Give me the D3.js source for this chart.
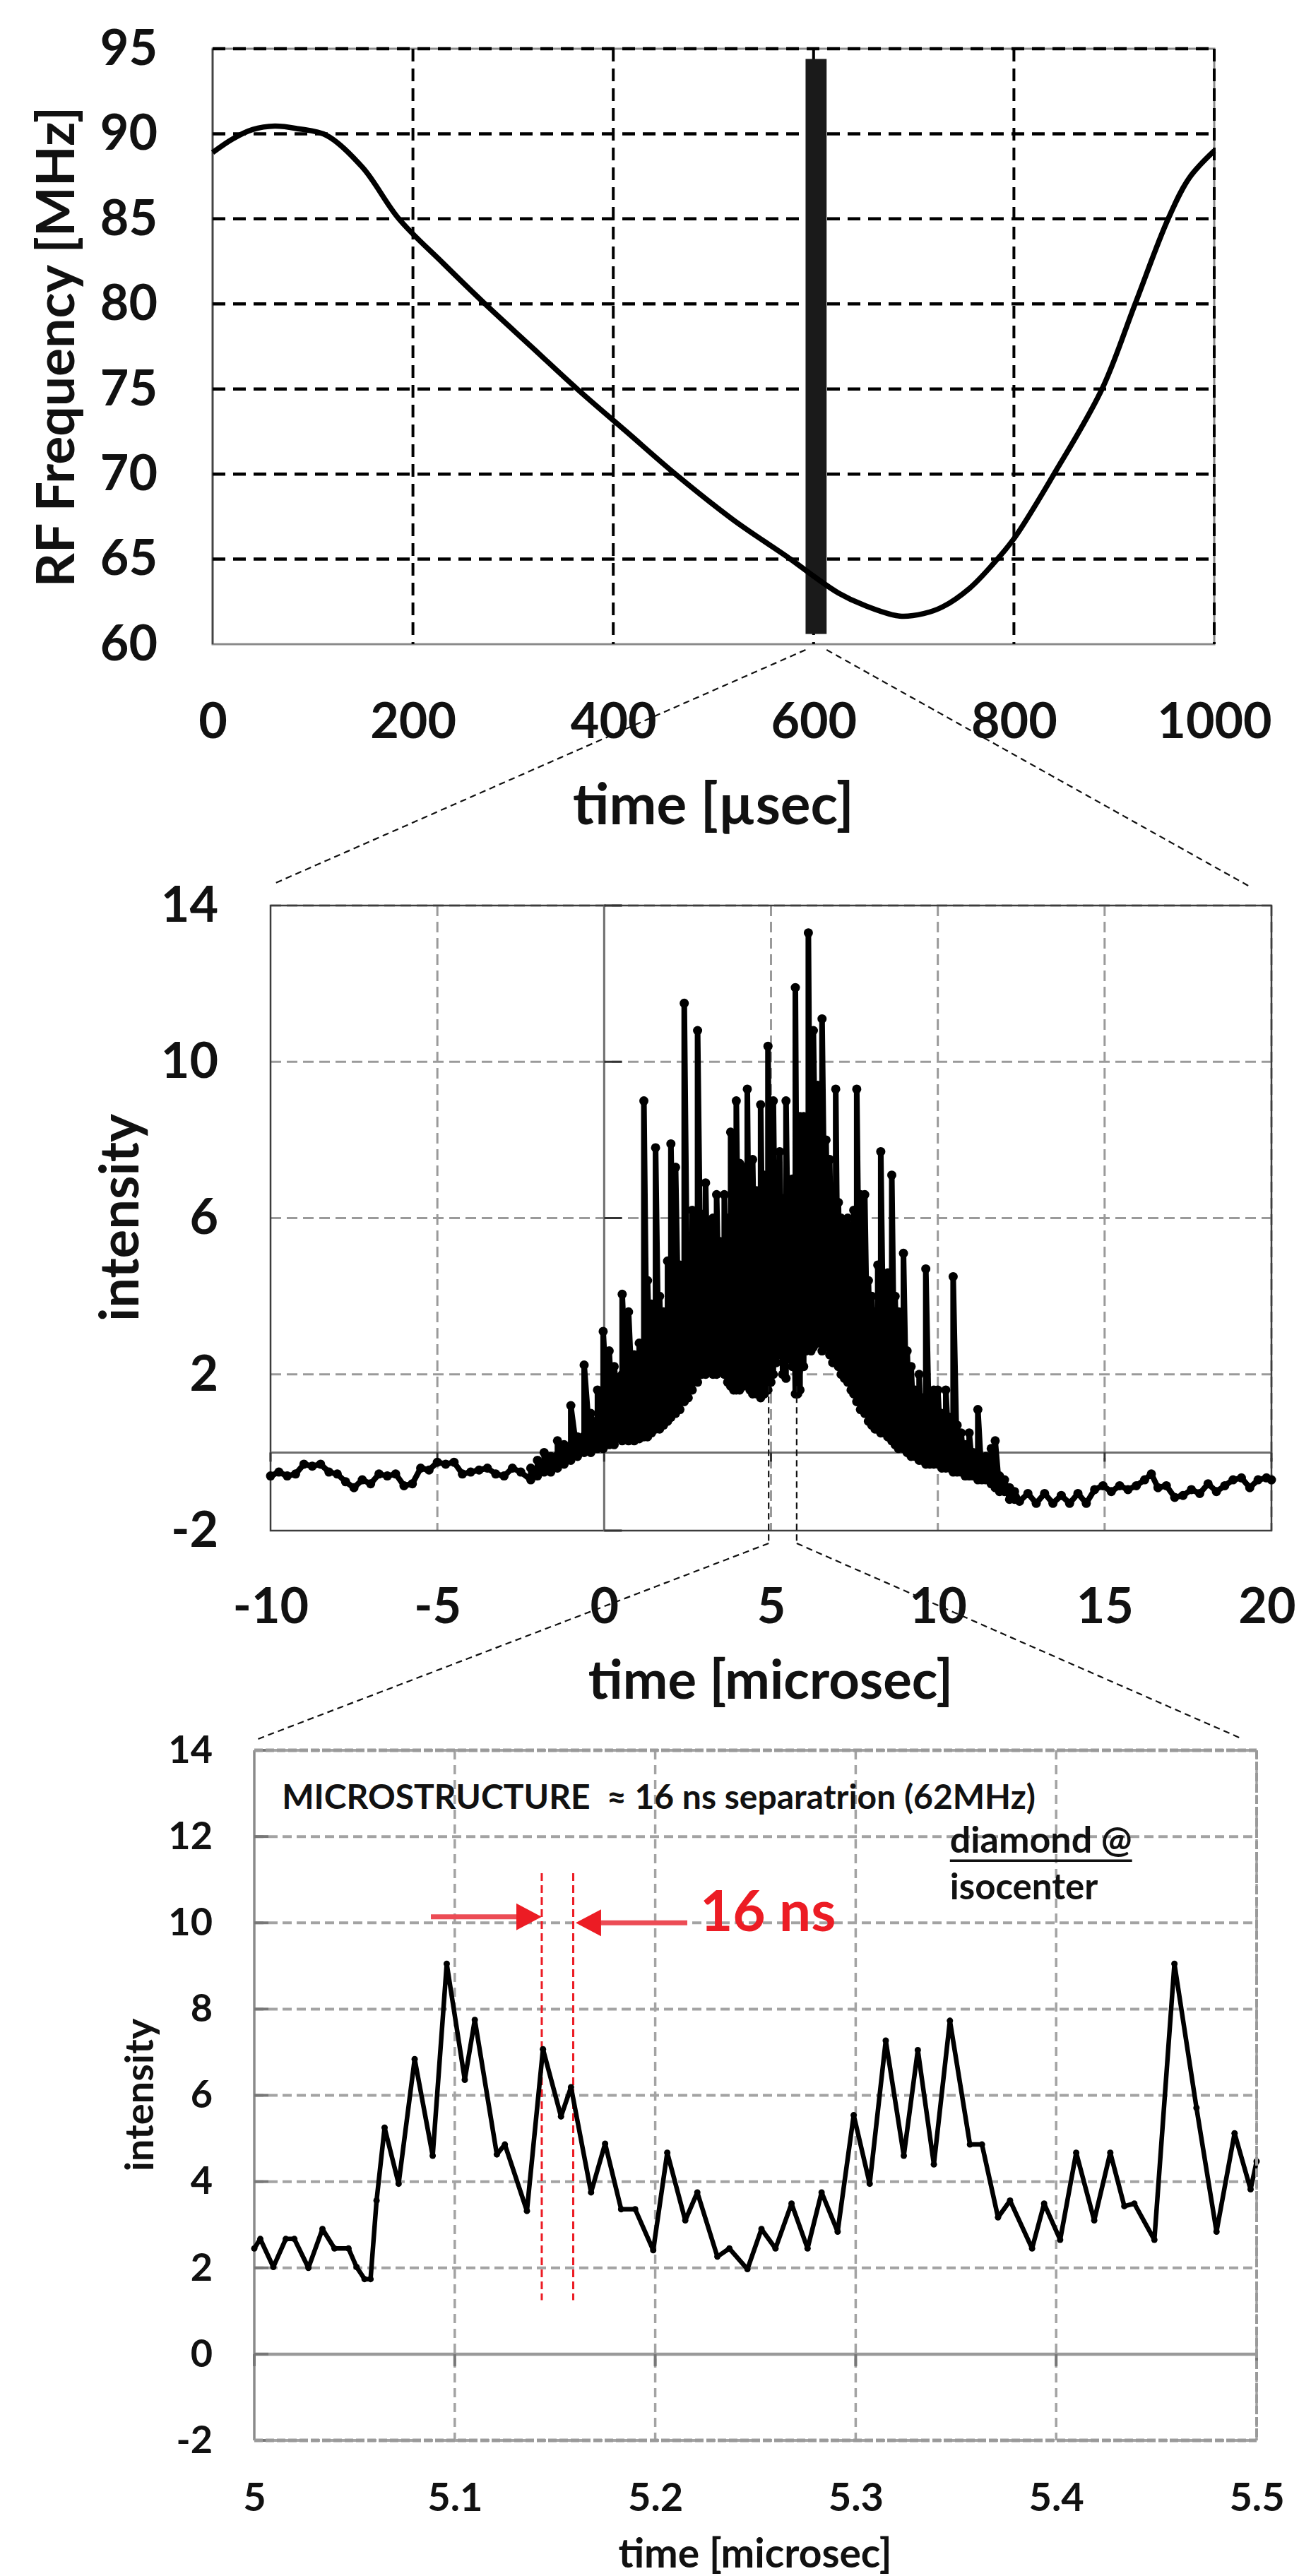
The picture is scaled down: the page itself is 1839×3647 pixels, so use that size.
<!DOCTYPE html>
<html>
<head>
<meta charset="utf-8">
<script src="https://cdn.jsdelivr.net/npm/d3@7"></script>
<style>
  body { margin: 0; background: #fff; }
  svg text { font-family: Lato, "Open Sans", sans-serif; font-weight: 700; fill: #111; }
</style>
</head>
<body>
<svg id="fig" width="1839" height="3647"></svg>
<script>
// ---------- data: top panel (RF sweep) ----------
const rfTime = [0, 20, 40, 62, 85, 114, 150, 186, 230, 272, 318, 364, 413, 462, 520, 577, 600, 625, 650, 686, 710, 729, 756, 779, 800, 840, 888, 921, 954, 975, 1000];
const rfFreq = [88.9, 89.7, 90.25, 90.45, 90.3, 89.9, 88.0, 85.0, 82.4, 80.0, 77.5, 75.0, 72.5, 70.0, 67.3, 65.0, 64.0, 63.0, 62.3, 61.65, 61.8, 62.2, 63.3, 64.7, 66.2, 70.0, 75.0, 80.0, 85.0, 87.4, 89.0];
const rfWindowTime = [592, 613];     // highlighted extraction window
const rfWindowFreq = [60.6, 94.4];
const topXTicks = [0, 200, 400, 600, 800, 1000];
const topYTicks = [60, 65, 70, 75, 80, 85, 90, 95];

// ---------- data: middle panel (macro pulse) ----------
const quietBeforeTime = [-10, -9.75, -9.5, -9.25, -9, -8.75, -8.5, -8.25, -8, -7.75, -7.5, -7.25, -7, -6.75, -6.5, -6.25, -6, -5.75, -5.5, -5.25, -5, -4.75, -4.5, -4.25, -4, -3.75, -3.5, -3.25, -3, -2.75, -2.5];
const quietBeforeValue = [-0.6, -0.5, -0.6, -0.55, -0.3, -0.35, -0.3, -0.5, -0.55, -0.75, -0.9, -0.7, -0.8, -0.55, -0.6, -0.55, -0.85, -0.8, -0.4, -0.45, -0.25, -0.3, -0.25, -0.55, -0.5, -0.45, -0.4, -0.55, -0.6, -0.4, -0.5];
const burstTime = [-2.2, -2.0, -1.8, -1.6, -1.4, -1.2, -1.0, -0.8, -0.6, -0.4, -0.2, -0.03, 0.15, 0.3, 0.54, 0.73, 0.9, 1.05, 1.19, 1.3, 1.42, 1.54, 1.66, 1.78, 1.9, 2.0, 2.14, 2.27, 2.4, 2.52, 2.64, 2.8, 2.92, 3.04, 3.15, 3.26, 3.37, 3.48, 3.6, 3.7, 3.79, 3.88, 3.96, 4.06, 4.17, 4.29, 4.37, 4.45, 4.57, 4.69, 4.8, 4.91, 5.0, 5.07, 5.16, 5.26, 5.35, 5.45, 5.55, 5.64, 5.73, 5.8, 5.87, 5.98, 6.05, 6.12, 6.2, 6.27, 6.4, 6.53, 6.65, 6.76, 6.85, 6.94, 7.02, 7.1, 7.2, 7.3, 7.4, 7.48, 7.57, 7.68, 7.81, 7.92, 8.02, 8.12, 8.2, 8.29, 8.4, 8.5, 8.62, 8.72, 8.82, 8.97, 9.08, 9.2, 9.32, 9.44, 9.54, 9.64, 9.76, 9.88, 10.0, 10.12, 10.24, 10.36, 10.46, 10.58, 10.7, 10.82, 10.94, 11.06, 11.2, 11.32, 11.44, 11.6, 11.72, 11.85, 12.0, 12.15, 12.3];
const burstHigh = [-0.4, -0.2, 0.0, -0.1, 0.3, 0.2, 1.2, 0.4, 2.24, 1.0, 1.6, 3.1, 2.6, 2.2, 4.05, 3.6, 2.5, 2.8, 9.0, 4.4, 3.8, 7.8, 4.0, 3.6, 4.9, 7.9, 7.3, 4.8, 11.5, 4.8, 6.2, 10.8, 6.1, 6.9, 5.9, 6.0, 6.6, 5.4, 6.6, 6.0, 8.2, 6.5, 9.0, 7.4, 7.3, 9.3, 7.2, 7.5, 6.7, 8.9, 7.1, 10.4, 8.0, 9.0, 7.2, 7.7, 6.5, 9.0, 6.8, 7.0, 11.9, 7.8, 8.6, 8.6, 7.6, 13.3, 9.0, 10.8, 9.4, 11.1, 8.0, 7.5, 6.7, 9.3, 6.4, 6.0, 5.9, 6.0, 5.8, 6.2, 9.3, 6.6, 6.6, 4.4, 4.0, 3.6, 4.8, 7.7, 4.2, 4.6, 7.1, 4.0, 3.6, 5.1, 2.6, 2.2, 1.6, 2.0, 1.4, 4.7, 1.4, 1.6, 1.6, 1.0, 1.6, 0.9, 4.5, 0.7, 0.5, 0.2, 0.5, 0.0, 1.1, -0.3, -0.1, 0.1, 0.3, -0.6, -0.7, -0.9, -1.0];
const burstBody = [-0.4, -0.3, -0.2, -0.1, 0.1, 0.2, 0.3, 0.4, 0.6, 0.8, 1.0, 1.3, 1.6, 1.9, 2.2, 2.4, 2.5, 2.6, 3.2, 3.4, 3.3, 3.5, 3.4, 3.4, 3.6, 4.0, 4.5, 4.3, 4.8, 4.6, 5.2, 5.6, 5.6, 5.8, 5.6, 5.6, 5.8, 5.2, 5.6, 5.6, 6.2, 6.0, 6.4, 6.4, 6.3, 6.6, 6.3, 6.4, 6.2, 6.6, 6.4, 7.0, 6.8, 7.0, 6.5, 6.6, 6.0, 6.8, 6.3, 6.5, 7.2, 6.8, 7.2, 7.4, 7.0, 7.6, 7.6, 7.8, 7.6, 7.6, 7.0, 6.6, 6.0, 6.2, 5.8, 5.6, 5.5, 5.5, 5.3, 5.4, 5.8, 5.4, 5.0, 4.2, 3.8, 3.5, 3.8, 4.0, 3.6, 3.6, 3.5, 3.2, 3.0, 2.8, 2.2, 1.9, 1.5, 1.6, 1.3, 1.6, 1.3, 1.3, 1.3, 0.9, 1.0, 0.8, 0.9, 0.6, 0.4, 0.1, 0.2, -0.1, 0.0, -0.4, -0.3, -0.3, -0.6, -0.7, -0.8, -1.0, -1.1];
const burstLow = [-0.7, -0.6, -0.5, -0.5, -0.4, -0.3, -0.2, -0.1, 0.0, 0.0, 0.1, 0.1, 0.2, 0.2, 0.3, 0.3, 0.3, 0.35, 0.4, 0.4, 0.5, 0.6, 0.6, 0.7, 0.8, 0.9, 1.0, 1.1, 1.3, 1.4, 1.6, 1.8, 2.0, 2.0, 2.1, 2.0, 2.0, 2.1, 2.0, 1.8, 1.7, 1.6, 1.6, 1.6, 1.7, 1.8, 1.6, 1.5, 1.5, 1.4, 1.5, 1.6, 1.8, 2.0, 2.3, 2.5, 2.0, 1.9, 2.4, 2.2, 1.5, 1.5, 1.6, 2.2, 2.6, 2.8, 2.6, 2.7, 2.8, 2.6, 2.7, 2.5, 2.3, 2.5, 2.2, 2.0, 1.9, 1.8, 1.6, 1.5, 1.3, 1.1, 1.0, 0.8, 0.7, 0.6, 0.6, 0.5, 0.5, 0.4, 0.3, 0.2, 0.1, 0.1, 0.0, -0.1, -0.1, -0.2, -0.2, -0.3, -0.3, -0.3, -0.3, -0.4, -0.4, -0.4, -0.5, -0.5, -0.5, -0.6, -0.6, -0.6, -0.7, -0.7, -0.7, -0.8, -0.9, -1.0, -1.0, -1.2, -1.2];
const quietAfterTime = [12.45, 12.7, 12.95, 13.2, 13.45, 13.7, 13.95, 14.2, 14.45, 14.7, 14.95, 15.2, 15.45, 15.7, 15.95, 16.2, 16.4, 16.6, 16.85, 17.1, 17.35, 17.6, 17.85, 18.1, 18.35, 18.6, 18.85, 19.1, 19.35, 19.6, 19.85, 20.0];
const quietAfterValue = [-1.25, -1.05, -1.3, -1.05, -1.3, -1.1, -1.3, -1.05, -1.3, -0.95, -0.85, -1.0, -0.85, -0.95, -0.85, -0.7, -0.55, -0.9, -0.85, -1.15, -1.1, -0.95, -1.05, -0.8, -1.0, -0.85, -0.7, -0.65, -0.9, -0.7, -0.65, -0.7];
const zoomWindow = [4.93, 5.77];
const midXTicks = [-10, -5, 0, 5, 10, 15, 20];
const midYTicks = [-2, 2, 6, 10, 14];

// ---------- data: bottom panel (microstructure) ----------
const microTime = [5.0, 5.003, 5.0095, 5.0157, 5.02, 5.027, 5.034, 5.04, 5.047, 5.051, 5.055, 5.058, 5.061, 5.065, 5.072, 5.08, 5.089, 5.096, 5.105, 5.11, 5.121, 5.125, 5.136, 5.144, 5.153, 5.158, 5.168, 5.175, 5.183, 5.19, 5.199, 5.206, 5.215, 5.221, 5.231, 5.237, 5.246, 5.253, 5.26, 5.268, 5.276, 5.283, 5.291, 5.299, 5.307, 5.315, 5.324, 5.331, 5.339, 5.347, 5.357, 5.363, 5.371, 5.377, 5.388, 5.394, 5.402, 5.41, 5.419, 5.427, 5.434, 5.439, 5.449, 5.459, 5.47, 5.48, 5.489, 5.497, 5.5];
const microValue = [2.45, 2.67, 2.02, 2.67, 2.67, 2.0, 2.9, 2.45, 2.45, 2.02, 1.74, 1.74, 3.56, 5.25, 3.95, 6.84, 4.6, 9.05, 6.36, 7.75, 4.63, 4.86, 3.32, 7.07, 5.51, 6.19, 3.75, 4.88, 3.36, 3.36, 2.41, 4.67, 3.1, 3.75, 2.26, 2.45, 1.97, 2.9, 2.45, 3.49, 2.45, 3.75, 2.84, 5.54, 3.95, 7.27, 4.6, 7.05, 4.4, 7.73, 4.86, 4.86, 3.17, 3.56, 2.45, 3.49, 2.65, 4.67, 3.1, 4.67, 3.43, 3.49, 2.65, 9.05, 5.71, 2.84, 5.12, 3.82, 4.47];
const bunchMarks = [5.1434, 5.1591];        // red dashed markers, 16 ns apart
const bunchMarkSpan = [1.25, 11.15];
const arrowRight = [[5.0881, 10.14], [5.1434, 10.14]];
const arrowLeft = [[5.216, 10.0], [5.1603, 10.0]];
const botXTicks = [5, 5.1, 5.2, 5.3, 5.4, 5.5];
const botYTicks = [-2, 0, 2, 4, 6, 8, 10, 12, 14];

const svg = d3.select("#fig");
svg.append("rect").attr("width", 1839).attr("height", 3647).attr("fill", "#fff");

function hLine(g, x1, x2, y, stroke, width, dash) {
  return g.append("line").attr("x1", x1).attr("x2", x2).attr("y1", y).attr("y2", y)
    .attr("stroke", stroke).attr("stroke-width", width).attr("stroke-dasharray", dash || null);
}
function vLine(g, x, y1, y2, stroke, width, dash) {
  return g.append("line").attr("x1", x).attr("x2", x).attr("y1", y1).attr("y2", y2)
    .attr("stroke", stroke).attr("stroke-width", width).attr("stroke-dasharray", dash || null);
}
function styleAxis(g, size) {
  g.select(".domain").remove();
  g.selectAll("line").remove();
  g.selectAll("text").attr("font-size", size).attr("fill", "#111")
    .style("font-family", "Lato, sans-serif").style("font-weight", 700);
}

/* ================= top panel ================= */
const xTop = d3.scaleLinear().domain([0, 1000]).range([301, 1719]);
const yTop = d3.scaleLinear().domain([60, 95]).range([912, 69]);
const gTop = svg.append("g");

gTop.append("rect").attr("x", 301).attr("y", 69).attr("width", 1418).attr("height", 843)
  .attr("fill", "none").attr("stroke", "#8a8a8a").attr("stroke-width", 3);
vLine(gTop, 301, 69, 912, "#444", 2.5);

topYTicks.filter(d => d > 60).forEach(d => hLine(gTop, 301, 1719, yTop(d), "#000", 4.5, "18,11"));
topXTicks.filter(d => d > 0).forEach(d => vLine(gTop, xTop(d), 69, 912, "#000", 4, "18,10"));

gTop.append("rect")
  .attr("x", xTop(rfWindowTime[0])).attr("width", xTop(rfWindowTime[1]) - xTop(rfWindowTime[0]))
  .attr("y", yTop(rfWindowFreq[1])).attr("height", yTop(rfWindowFreq[0]) - yTop(rfWindowFreq[1]))
  .attr("fill", "#1a1a1a");

const rfLine = d3.line().x((d, i) => xTop(rfTime[i])).y(d => yTop(d)).curve(d3.curveCatmullRom.alpha(0.5));
gTop.append("path").attr("d", rfLine(rfFreq)).attr("fill", "none")
  .attr("stroke", "#000").attr("stroke-width", 7.5).attr("stroke-linejoin", "round");

gTop.append("g").attr("transform", "translate(301,0)")
  .call(d3.axisLeft(yTop).tickValues(topYTicks).tickSize(0).tickPadding(78).tickFormat(d => d))
  .call(g => styleAxis(g, 70));
gTop.append("g").attr("transform", "translate(0,912)")
  .call(d3.axisBottom(xTop).tickValues(topXTicks).tickSize(0).tickPadding(83).tickFormat(d => d))
  .call(g => styleAxis(g, 70));

gTop.append("text").attr("transform", "translate(105,491) rotate(-90)")
  .attr("text-anchor", "middle").attr("font-size", 75).text("RF Frequency [MHz]");
gTop.append("text").attr("x", 1010).attr("y", 1167)
  .attr("text-anchor", "middle").attr("font-size", 80).text("time [\u00b5sec]");

/* ================= middle panel ================= */
const xMid = d3.scaleLinear().domain([-10, 20]).range([383, 1800]);
const yMid = d3.scaleLinear().domain([-2, 14]).range([2167, 1282]);
const gMid = svg.append("g");

midYTicks.filter(d => d > -2).forEach(d => hLine(gMid, 383, 1800, yMid(d), "#9a9a9a", 3, "15,8"));
midXTicks.filter(d => d > -10 && d !== 0).forEach(d => vLine(gMid, xMid(d), 1282, 2167, "#9a9a9a", 3, "15,8"));
gMid.append("rect").attr("x", 383).attr("y", 1282).attr("width", 1417).attr("height", 885)
  .attr("fill", "none").attr("stroke", "#3c3c3c").attr("stroke-width", 2.5);
hLine(gMid, 383, 1800, yMid(0), "#6e6e6e", 3);
vLine(gMid, xMid(0), 1282, 2167, "#6e6e6e", 3);
midYTicks.forEach(d => hLine(gMid, xMid(0), xMid(0) + 25, yMid(d), "#333", 3));
midXTicks.forEach(d => vLine(gMid, xMid(d), yMid(0), yMid(0) + 13, "#333", 3));

// dense core of the pulse
const bodyArea = d3.area()
  .x((d, i) => xMid(burstTime[i]))
  .y0((d, i) => yMid(burstLow[i]))
  .y1(d => yMid(d));
gMid.append("path").attr("d", bodyArea(burstBody)).attr("fill", "#000");

const midPts = [];
quietBeforeTime.forEach((t, i) => midPts.push([t, quietBeforeValue[i]]));
burstTime.forEach((t, i) => { midPts.push([t, burstLow[i]]); midPts.push([t, burstHigh[i]]); });
quietAfterTime.forEach((t, i) => midPts.push([t, quietAfterValue[i]]));

const midLine = d3.line().x(d => xMid(d[0])).y(d => yMid(d[1]));
gMid.append("path").attr("d", midLine(midPts)).attr("fill", "none")
  .attr("stroke", "#000").attr("stroke-width", 8).attr("stroke-linejoin", "round");
gMid.selectAll("circle.mk").data(midPts).enter().append("circle")
  .attr("cx", d => xMid(d[0])).attr("cy", d => yMid(d[1])).attr("r", 6.5).attr("fill", "#000");

gMid.append("g").attr("transform", "translate(383,0)")
  .call(d3.axisLeft(yMid).tickValues(midYTicks).tickSize(0).tickPadding(74).tickFormat(d => String(d)))
  .call(g => styleAxis(g, 70));
gMid.append("g").attr("transform", "translate(0,2167)")
  .call(d3.axisBottom(xMid).tickValues(midXTicks).tickSize(0).tickPadding(81).tickFormat(d => String(d)))
  .call(g => styleAxis(g, 70))
  .call(g => g.selectAll(".tick").filter(d => d === 20).select("text")
    .attr("text-anchor", "end").attr("x", 34));

gMid.append("text").attr("transform", "translate(196,1724) rotate(-90)")
  .attr("text-anchor", "middle").attr("font-size", 76).text("intensity");
gMid.append("text").attr("x", 1091).attr("y", 2405)
  .attr("text-anchor", "middle").attr("font-size", 76).text("time [microsec]");

/* ================= bottom panel ================= */
const xBot = d3.scaleLinear().domain([5, 5.5]).range([360, 1779]);
const yBot = d3.scaleLinear().domain([-2, 14]).range([3455, 2478]);
const gBot = svg.append("g");

botYTicks.filter(d => d !== 0).forEach(d => hLine(gBot, 360, 1779, yBot(d), "#a3a3a3", 4, "13,7"));
botXTicks.filter(d => d > 5).forEach(d => vLine(gBot, xBot(d), 2478, 3455, "#a3a3a3", 3.5, "13,8"));
vLine(gBot, 360, 2478, 3455, "#8a8a8a", 3.5);
hLine(gBot, 360, 1779, yBot(0), "#9a9a9a", 4.5);
botYTicks.forEach(d => hLine(gBot, 360, 380, yBot(d), "#777", 4));
botXTicks.forEach(d => vLine(gBot, xBot(d), yBot(0), yBot(0) + 17, "#777", 4));

bunchMarks.forEach(t => vLine(gBot, xBot(t), yBot(bunchMarkSpan[1]), yBot(bunchMarkSpan[0]), "#ec1c24", 3, "11,6"));

const microLine = d3.line().x((d, i) => xBot(microTime[i])).y(d => yBot(d));
gBot.append("path").attr("d", microLine(microValue)).attr("fill", "none")
  .attr("stroke", "#000").attr("stroke-width", 6.5).attr("stroke-linejoin", "round");
gBot.selectAll("circle.mk").data(microValue).enter().append("circle")
  .attr("cx", (d, i) => xBot(microTime[i])).attr("cy", d => yBot(d)).attr("r", 4.5).attr("fill", "#000");

// red arrows
function arrow(pts, color) {
  const [a, b] = pts;
  const x1 = xBot(a[0]), x2 = xBot(b[0]), y = yBot(a[1]);
  const dir = Math.sign(x2 - x1), head = 36;
  hLine(gBot, x1, x2 - dir * head, y, "#ec4c55", 7);
  gBot.append("path")
    .attr("d", `M${x2},${y} L${x2 - dir * head},${y - 19} L${x2 - dir * head},${y + 19} Z`)
    .attr("fill", color);
}
arrow(arrowRight, "#ec1c24");
arrow(arrowLeft, "#ec1c24");

gBot.append("text").attr("x", xBot(5.0138)).attr("y", yBot(12.64)).attr("font-size", 48)
  .text("MICROSTRUCTURE\u00a0 \u2248 16 ns separatrion (62MHz)");
const diamond = gBot.append("text").attr("x", xBot(5.347)).attr("y", yBot(11.63)).attr("font-size", 52)
  .text("diamond @");
const dW = diamond.node().getComputedTextLength();
hLine(gBot, xBot(5.347), xBot(5.347) + dW, yBot(11.44), "#111", 3.5);
gBot.append("text").attr("x", xBot(5.347)).attr("y", yBot(10.55)).attr("font-size", 51)
  .text("isocenter");
gBot.append("text").attr("x", xBot(5.2223)).attr("y", yBot(9.81)).attr("font-size", 80)
  .style("fill", "#ec1c24").text("16 ns");

gBot.append("g").attr("transform", "translate(360,0)")
  .call(d3.axisLeft(yBot).tickValues(botYTicks).tickSize(0).tickPadding(59).tickFormat(d => String(d)))
  .call(g => styleAxis(g, 54));
gBot.append("g").attr("transform", "translate(0,3455)")
  .call(d3.axisBottom(xBot).tickValues(botXTicks).tickSize(0).tickPadding(60).tickFormat(d => String(d)))
  .call(g => styleAxis(g, 56));

gBot.append("text").attr("transform", "translate(217,2966) rotate(-90)")
  .attr("text-anchor", "middle").attr("font-size", 56).text("intensity");
gBot.append("text").attr("x", 1069).attr("y", 3635)
  .attr("text-anchor", "middle").attr("font-size", 57).text("time [microsec]");

// top/right/bottom frame of the bottom panel (dashed gray)
hLine(gBot, 360, 1779, 2478, "#9a9a9a", 5, "12,4");
hLine(gBot, 360, 1779, 3455, "#9a9a9a", 5, "12,4");
vLine(gBot, 1779, 2478, 3455, "#9a9a9a", 4, "12,4");

/* ================= zoom connectors ================= */
const gCon = svg.append("g").attr("fill", "none");
const conStyle = s => s.attr("stroke", "#111").attr("stroke-width", 2.2).attr("stroke-dasharray", "9,6");
// top -> middle
gCon.append("line").attr("x1", xTop(rfWindowTime[0])).attr("y1", 920).attr("x2", 388).attr("y2", 1251).call(conStyle);
gCon.append("line").attr("x1", xTop(rfWindowTime[1])).attr("y1", 920).attr("x2", 1769).attr("y2", 1255).call(conStyle);
// middle -> bottom
zoomWindow.forEach(t => gCon.append("line").attr("x1", xMid(t)).attr("x2", xMid(t))
  .attr("y1", yMid(1.7)).attr("y2", 2185).call(conStyle));
gCon.append("line").attr("x1", xMid(zoomWindow[0])).attr("y1", 2185).attr("x2", 360).attr("y2", 2464).call(conStyle);
gCon.append("line").attr("x1", xMid(zoomWindow[1])).attr("y1", 2185).attr("x2", 1759).attr("y2", 2462).call(conStyle);
</script>
</body>
</html>
